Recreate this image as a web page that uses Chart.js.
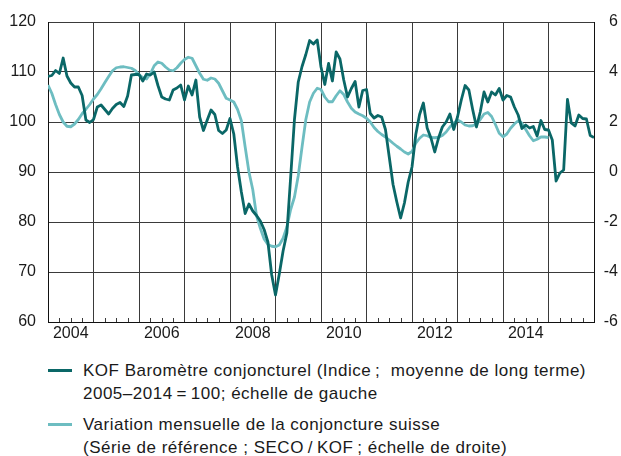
<!DOCTYPE html>
<html>
<head>
<meta charset="utf-8">
<script src="https://cdn.jsdelivr.net/npm/chart.js@4"></script>
<style>
  body { margin: 0; background: #fff; font-family: "Liberation Sans", Arial, sans-serif; color: #1a1a1a; }
  #wrap { position: relative; width: 621px; height: 456px; }
  #box { position: absolute; left: 0; top: 0; width: 621px; height: 350px; }
  .leg { position: absolute; left: 48px; font-size: 17px; line-height: 23px; letter-spacing: 0.5px; }
  .leg .swatch { position: absolute; left: 0; top: 10px; width: 24px; height: 3px; }
  .leg .txt { margin-left: 35px; white-space: nowrap; }
</style>
</head>
<body>
<div id="wrap">
  <div id="box"><canvas id="myChart"></canvas></div>
  <div class="leg" style="top:359px">
    <div class="swatch" style="background:#0a6767"></div>
    <div class="txt">KOF Baromètre conjoncturel (Indice&#8201;; &nbsp;moyenne de long terme)<br>2005–2014&#8201;=&#8201;100; échelle de gauche</div>
  </div>
  <div class="leg" style="top:413px">
    <div class="swatch" style="background:#6dbdc1"></div>
    <div class="txt">Variation mensuelle de la conjoncture suisse<br>(Série de référence ; SECO&#8201;/&#8201;KOF&#8201;; échelle de droite)</div>
  </div>
</div>
<script>
const startYear = 2004
const endYear = 2016
const yearLabels = [2004, 2006, 2008, 2010, 2012, 2014]

// KOF barometer, monthly from Jan 2004 (left axis)
const kofValues = [
  109.1, 109.3, 110.3, 109.7, 112.8, 109.2, 107.8, 107.0, 107.0, 105.3, 100.4, 99.9,
  100.5, 103.0, 103.4, 102.5, 101.6, 102.7, 103.5, 103.9, 103.1, 105.2, 109.4, 109.5,
  109.5, 108.2, 109.6, 109.4, 110.0, 107.3, 105.0, 104.6, 104.4, 106.4, 106.8, 107.4,
  104.4, 107.2, 105.4, 108.4, 101.0, 98.3, 100.4, 102.4, 101.5, 98.3, 97.7, 98.4,
  100.7, 97.6, 91.0, 86.0, 81.7, 83.6, 82.2, 81.3, 80.2, 78.5, 76.0, 69.4,
  65.4, 69.6, 74.2, 77.8, 89.0, 100.5, 108.0, 111.1, 113.5, 116.3, 115.6, 116.4,
  111.0, 107.5, 111.7, 108.2, 114.0, 112.6, 108.4, 105.0, 106.7, 108.1, 103.0, 106.3,
  106.5, 101.7, 100.8, 101.3, 101.0, 98.5, 93.0, 87.5, 84.0, 80.8, 83.8, 88.0,
  91.0, 97.5, 101.5, 103.8, 98.8, 96.8, 94.0, 96.8, 99.0, 100.0, 101.6, 98.5,
  101.0, 104.4, 107.3, 106.4, 102.5, 99.0, 102.0, 106.0, 104.0, 106.0, 105.4, 106.7,
  104.4, 105.3, 105.0, 103.0, 101.4, 98.7, 99.4, 98.8, 99.1, 97.2, 100.3, 98.5,
  98.4, 96.4, 88.2, 89.8, 90.4, 104.5, 99.8, 99.2, 101.4, 100.7, 100.6, 97.3,
  96.9
]

// reference series, monthly change (right axis)
const refValues = [
  3.48, 3.15, 2.7, 2.3, 2.0, 1.83, 1.81, 1.92, 2.1, 2.33, 2.51, 2.7,
  2.92, 3.1, 3.33, 3.58, 3.82, 4.05, 4.17, 4.2, 4.21, 4.18, 4.15, 4.06,
  3.9, 3.78, 3.72, 3.93, 4.25, 4.4, 4.35, 4.2, 4.08, 4.05, 4.17, 4.35,
  4.5, 4.59, 4.55, 4.25, 3.95, 3.71, 3.67, 3.76, 3.72, 3.55, 3.25, 2.95,
  2.88, 2.8, 2.5, 2.05, 1.0, 0.0, -0.7, -1.75, -2.25, -2.68, -2.9, -2.97,
  -2.99, -2.92, -2.65, -2.2, -1.5, -1.0, -0.15, 1.0, 2.1, 2.8, 3.15, 3.35,
  3.3, 3.0, 2.81, 2.81, 3.05, 3.25, 3.1, 2.8, 2.55, 2.4, 2.32, 2.25,
  2.15, 2.0, 1.78, 1.62, 1.5, 1.4, 1.28, 1.15, 1.03, 0.92, 0.8, 0.72,
  0.82, 1.15, 1.35, 1.48, 1.45, 1.38, 1.37, 1.39, 1.46, 1.6, 1.8, 1.95,
  2.08, 2.0, 1.88, 1.84, 1.85, 1.92, 2.1, 2.32, 2.38, 2.22, 1.9, 1.55,
  1.41, 1.52, 1.75, 1.92, 2.05, 1.95, 1.7, 1.45, 1.25, 1.31, 1.4, 1.4,
  1.38
]

const toPoints = (arr) => arr.map((v, i) => ({ x: startYear + i / 12, y: v }))

const gridColor = '#3a3a3a'
const tickFont = { family: 'Liberation Sans, Arial, sans-serif', size: 16 }

// small quarter ticks along the bottom, drawn upward
const quarterTicks = {
  id: 'quarterTicks',
  afterDraw(chart) {
    const xs = chart.scales.x
    const bottom = chart.chartArea.bottom
    const c = chart.ctx
    c.save()
    c.strokeStyle = gridColor
    c.lineWidth = 1
    c.beginPath()
    for (let y = startYear; y < endYear; y++) {
      for (let q = 1; q < 4; q++) {
        const px = Math.round(xs.getPixelForValue(y + q / 4)) + 0.5
        c.moveTo(px, bottom)
        c.lineTo(px, bottom - 4)
      }
    }
    c.stroke()
    c.restore()
  }
}

const ctx = document.getElementById('myChart')

const myChart = new Chart(ctx, {
  type: 'line',
  data: {
    datasets: [{
      label: 'KOF Baromètre conjoncturel',
      data: toPoints(kofValues),
      yAxisID: 'y',
      borderColor: '#0a6767',
      borderWidth: 2.8,
      pointRadius: 0,
      tension: 0,
      borderJoinStyle: 'round'
    }, {
      label: 'Variation mensuelle de la conjoncture suisse',
      data: toPoints(refValues),
      yAxisID: 'y1',
      borderColor: '#6dbdc1',
      borderWidth: 2.8,
      pointRadius: 0,
      tension: 0,
      borderJoinStyle: 'round'
    }]
  },
  options: {
    responsive: true,
    maintainAspectRatio: false,
    animation: false,
    layout: { padding: { top: 22, left: 8, right: 3, bottom: 0 } },
    plugins: {
      legend: { display: false },
      tooltip: { enabled: false }
    },
    scales: {
      x: {
        type: 'linear',
        min: startYear,
        max: endYear,
        afterFit: (axis) => { axis.height = 28 },
        afterBuildTicks: (axis) => {
          const t = []
          for (let y = startYear; y <= endYear; y++) {
            t.push({ value: y })
            if (yearLabels.includes(y)) t.push({ value: y + 0.5 })
          }
          axis.ticks = t
        },
        grid: {
          color: (c) => (c.tick && c.tick.value % 1 === 0 ? gridColor : 'rgba(0,0,0,0)'),
          lineWidth: 1,
          drawTicks: false
        },
        border: { color: '#111', width: 1 },
        ticks: {
          autoSkip: false,
          maxRotation: 0,
          padding: 2,
          color: '#1a1a1a',
          font: tickFont,
          callback: (v) => (v % 1 === 0.5 ? String(Math.floor(v)) : '')
        }
      },
      y: {
        position: 'left',
        min: 60,
        max: 120,
        afterFit: (axis) => { axis.width = 40 },
        ticks: { stepSize: 10, padding: 12, color: '#1a1a1a', font: tickFont },
        grid: { color: gridColor, lineWidth: 1, drawTicks: false },
        border: { color: '#111', width: 1 }
      },
      y1: {
        position: 'right',
        min: -6,
        max: 6,
        afterFit: (axis) => { axis.width = 24 },
        ticks: { stepSize: 2, padding: 9, color: '#1a1a1a', font: tickFont, crossAlign: 'far' },
        grid: { display: false, drawTicks: false },
        border: { color: '#111', width: 1 }
      }
    }
  },
  plugins: [quarterTicks]
})
</script>
</body>
</html>
